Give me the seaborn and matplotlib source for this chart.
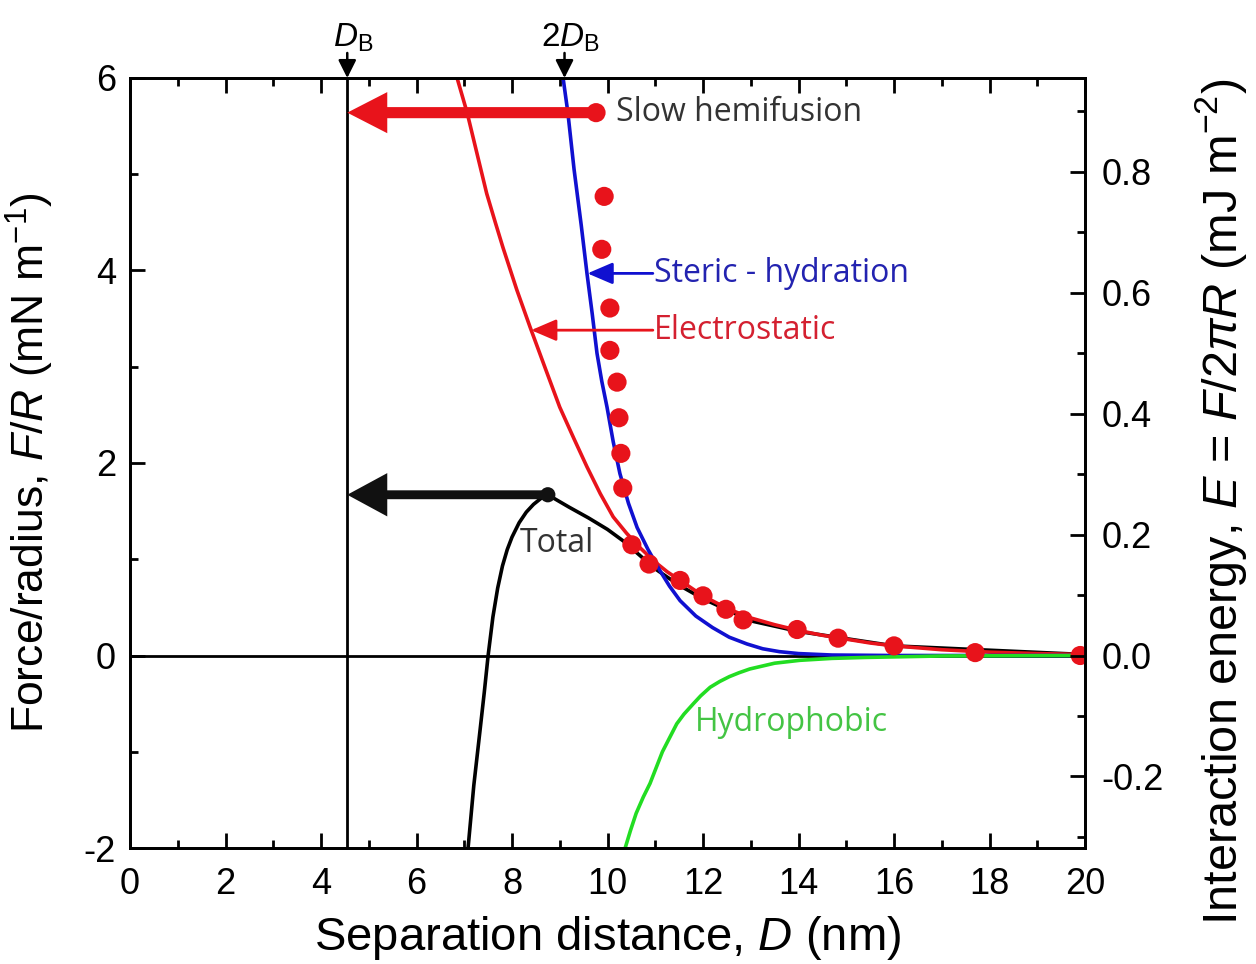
import numpy as np
import pandas as pd
import seaborn as sns
import matplotlib
matplotlib.use("Agg")
import matplotlib.pyplot as plt
from matplotlib import font_manager
from matplotlib.ticker import MultipleLocator, FormatStrFormatter

# ---------------- data ----------------
# measured points (red dots)
dots_x = [9.93, 9.88, 10.05, 10.05, 10.20, 10.24, 10.28, 10.32, 10.51, 10.87,
          11.52, 12.00, 12.48, 12.84, 13.97, 14.83, 16.00, 17.70, 19.90]
dots_y = [4.77, 4.22, 3.61, 3.17, 2.84, 2.47, 2.10, 1.74, 1.15, 0.95,
          0.78, 0.62, 0.48, 0.37, 0.27, 0.18, 0.10, 0.03, 0.00]

# slow hemifusion point and total-barrier maximum
hemi_x, hemi_y = 9.76, 5.64
peak_x, peak_y = 8.75, 1.67

# D_B
db = 4.55
db2 = 9.1

# electrostatic curve
elec_x = [6.85, 7.06, 7.25, 7.47, 7.65, 7.81, 8.10, 8.38, 8.70, 9.00, 9.30,
          9.57, 9.85, 10.12, 10.40, 10.68, 11.00, 11.25, 11.52, 12.00, 12.50,
          13.00, 13.50, 14.00, 14.50, 15.00, 15.50, 16.00, 17.00, 18.00,
          19.00, 20.00]
elec_y = [6.00, 5.64, 5.25, 4.80, 4.50, 4.24, 3.80, 3.41, 2.98, 2.58, 2.25,
          1.96, 1.68, 1.44, 1.27, 1.12, 0.97, 0.87, 0.78, 0.62, 0.49,
          0.39, 0.32, 0.26, 0.21, 0.17, 0.13, 0.10, 0.06, 0.035,
          0.02, 0.01]

# steric-hydration curve
ster_x = [9.07, 9.17, 9.30, 9.45, 9.57, 9.68, 9.78, 9.88, 9.99, 10.12, 10.26,
          10.44, 10.62, 10.85, 11.10, 11.30, 11.52, 11.85, 12.20, 12.55,
          12.92, 13.25, 13.60, 14.00, 14.70, 16.00, 20.00]
ster_y = [6.00, 5.64, 5.05, 4.47, 3.97, 3.55, 3.14, 2.85, 2.58, 2.22, 1.89,
          1.58, 1.33, 1.10, 0.88, 0.72, 0.57, 0.41, 0.29, 0.19,
          0.12, 0.07, 0.04, 0.02, 0.005, 0.00, 0.00]

# hydrophobic curve
hyd_x = [10.37, 10.48, 10.60, 10.75, 10.89, 11.15, 11.45, 11.60, 11.80, 11.95,
         12.15, 12.35, 12.55, 12.75, 12.98, 13.50, 14.03, 14.70, 15.40, 17.00,
         20.00]
hyd_y = [-2.00, -1.82, -1.64, -1.47, -1.33, -1.00, -0.71, -0.61, -0.50, -0.42,
         -0.33, -0.27, -0.22, -0.18, -0.14, -0.08, -0.05, -0.03, -0.02, -0.005,
         0.00]

# total curve
tot_x = [7.08, 7.20, 7.33, 7.42, 7.50, 7.60, 7.70, 7.80, 7.90, 8.00, 8.15,
         8.30, 8.45, 8.60, 8.75, 9.20, 9.60, 10.00, 10.33, 10.70, 11.00,
         11.50, 12.00, 13.00, 14.00, 16.00, 20.00]
tot_y = [-2.00, -1.35, -0.78, -0.38, 0.00, 0.40, 0.70, 0.93, 1.10, 1.23, 1.38,
         1.49, 1.57, 1.63, 1.67, 1.54, 1.43, 1.31, 1.19, 1.03, 0.90,
         0.73, 0.59, 0.36, 0.25, 0.10, 0.01]

xticks = [0, 2, 4, 6, 8, 10, 12, 14, 16, 18, 20]
yticks = [-2, 0, 2, 4, 6]
eticks = [-0.2, 0.0, 0.2, 0.4, 0.6, 0.8]

# ---------------- style ----------------
sns.set_theme(style="ticks")
names = {f.name for f in font_manager.fontManager.ttflist}
axis_font = "Liberation Sans Narrow" if "Liberation Sans Narrow" in names else "Liberation Sans"
note_font = "Open Sans" if "Open Sans" in names else "DejaVu Sans"
plt.rcParams["font.family"] = ["Liberation Sans", "DejaVu Sans"]
plt.rcParams["axes.unicode_minus"] = False
plt.rcParams["mathtext.fontset"] = "custom"
plt.rcParams["mathtext.rm"] = axis_font
plt.rcParams["mathtext.it"] = axis_font + ":italic"
plt.rcParams["mathtext.sf"] = axis_font
for k in ["text.color", "axes.labelcolor", "xtick.color", "ytick.color",
          "xtick.labelcolor", "ytick.labelcolor"]:
    plt.rcParams[k] = "black"

RED = "#e8131b"
BLUE = "#1010d0"
GREEN = "#22dd22"

fig = plt.figure(figsize=(12.56, 9.64), dpi=100)
ax = fig.add_axes([130 / 1256, 1 - 848 / 964, 955 / 1256, 770 / 964])

ax.set_xlim(0, 20)
ax.set_ylim(-2, 6)

# zero line and D_B line
ax.axhline(0, color="black", lw=2, zorder=1)
ax.axvline(db, color="black", lw=2, zorder=1)

lw = 2.6
sns.lineplot(x=elec_x, y=elec_y, ax=ax, color=RED, lw=lw, zorder=2)
sns.lineplot(x=ster_x, y=ster_y, ax=ax, color=BLUE, lw=lw, zorder=2)
sns.lineplot(x=hyd_x, y=hyd_y, ax=ax, color=GREEN, lw=lw, zorder=2)
sns.lineplot(x=tot_x, y=tot_y, ax=ax, color="black", lw=lw, zorder=1.5)

sns.scatterplot(x=dots_x, y=dots_y, ax=ax, s=190, color=RED, edgecolor="none",
                zorder=5, legend=False)
sns.scatterplot(x=[hemi_x], y=[hemi_y], ax=ax, s=190, color=RED, edgecolor="none",
                zorder=5, legend=False)
sns.scatterplot(x=[peak_x], y=[peak_y], ax=ax, s=120, color="#111111",
                edgecolor="none", zorder=5, legend=False)

# big horizontal arrows
ax.annotate("", xy=(db, hemi_y), xytext=(hemi_x, hemi_y),
            arrowprops=dict(arrowstyle="simple,head_length=0.72,head_width=0.74,tail_width=0.2",
                            mutation_scale=40, color=RED, lw=0, shrinkA=0, shrinkB=0),
            zorder=4)
ax.annotate("", xy=(db, peak_y), xytext=(peak_x, peak_y),
            arrowprops=dict(arrowstyle="simple,head_length=0.72,head_width=0.78,tail_width=0.16",
                            mutation_scale=40, color="#111111", lw=0, shrinkA=0, shrinkB=0),
            zorder=4)

# label arrows
ax.annotate("", xy=(9.58, 3.97), xytext=(10.95, 3.97),
            arrowprops=dict(arrowstyle="-|>,head_length=0.7,head_width=0.3",
                            mutation_scale=22, color=BLUE, lw=2, shrinkA=0, shrinkB=0))
ax.annotate("", xy=(8.4, 3.38), xytext=(10.95, 3.38),
            arrowprops=dict(arrowstyle="-|>,head_length=0.7,head_width=0.3",
                            mutation_scale=22, color=RED, lw=2, shrinkA=0, shrinkB=0))

note_kw = dict(fontsize=23, family=note_font, va="center")
ax.text(10.18, hemi_y, "Slow hemifusion", color="#333333", ha="left", **note_kw)
ax.text(10.97, 3.97, "Steric - hydration", color="#2323b0", ha="left", **note_kw)
ax.text(10.97, 3.38, "Electrostatic", color="#d42030", ha="left", **note_kw)
ax.text(8.94, 1.165, "Total", color="#333333", ha="center", **note_kw)
ax.text(13.86, -0.70, "Hydrophobic", color="#44c444", ha="center", **note_kw)

# D_B markers above the frame
for xv, lab in [(db, r"$\mathit{D}_{\mathrm{B}}$"), (db2, r"2$\mathit{D}_{\mathrm{B}}$")]:
    ax.annotate("", xy=(xv, 6.0), xytext=(xv, 6.26),
                arrowprops=dict(arrowstyle="-|>,head_length=0.6,head_width=0.3",
                                mutation_scale=18, color="black", lw=1.8,
                                shrinkA=0, shrinkB=0),
                annotation_clip=False)
    ax.text(xv + 0.12, 6.42, lab, ha="center", va="center", fontsize=24,
            clip_on=False)

# ticks / spines
for s in ax.spines.values():
    s.set_linewidth(2)
    s.set_color("black")
ax.set_xticks(xticks)
ax.set_yticks(yticks)
ax.xaxis.set_minor_locator(MultipleLocator(1))
ax.yaxis.set_minor_locator(MultipleLocator(1))
ax.tick_params(which="both", direction="in", top=True, right=False, width=2,
               color="black", labelcolor="black")
ax.tick_params(which="major", length=11)
ax.tick_params(which="minor", length=6)
ax.tick_params(axis="x", labelsize=26, pad=14)
ax.tick_params(axis="y", labelsize=26, pad=10)
for lab in ax.get_xticklabels():
    lab.set_family(axis_font)

ax2 = ax.twinx()
ax2.set_ylim(-2 / (2 * np.pi), 6 / (2 * np.pi))
ax2.set_yticks(eticks)
ax2.yaxis.set_minor_locator(MultipleLocator(0.1))
ax2.yaxis.set_major_formatter(FormatStrFormatter("%.1f"))
ax2.tick_params(which="both", direction="in", width=2, color="black",
                labelcolor="black", labelsize=26, pad=12)
ax2.tick_params(which="major", length=11)
ax2.tick_params(which="minor", length=6)
for s in ax2.spines.values():
    s.set_linewidth(2)
    s.set_color("black")

ax.set_xlabel(r"Separation distance, $\mathit{D}$ (nm)", fontsize=34,
              family=axis_font, labelpad=8, color="black")
ax.set_ylabel(r"Force/radius, $\mathit{F}$/$\mathit{R}$ (mN m$^{-1}$)", fontsize=32,
              family=axis_font, color="black")
ax.yaxis.set_label_coords(-0.077, 0.5)
ax2.set_ylabel(r"Interaction energy, $\mathit{E}$ = $\mathit{F}$/2$\pi\mathit{R}$ (mJ m$^{-2}$)",
               fontsize=35, family=axis_font, rotation=90, color="black")
ax2.yaxis.set_label_coords(1.113, 0.45)

fig.savefig("out.png", dpi=100)
